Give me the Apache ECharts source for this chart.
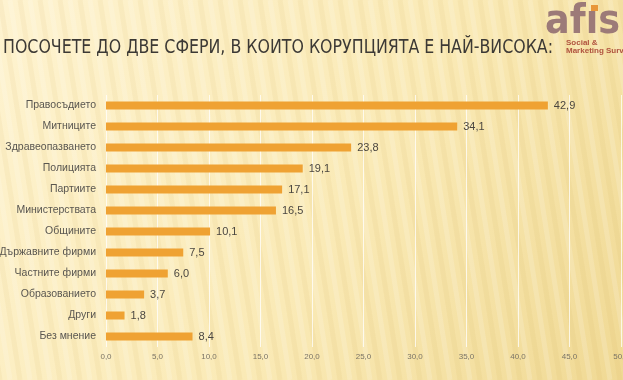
<!DOCTYPE html>
<html><head><meta charset="utf-8">
<script src="https://cdn.jsdelivr.net/npm/echarts@6/dist/echarts.min.js"></script>
<style>html,body{margin:0;padding:0;}#c{width:623px;height:380px;}</style>
</head><body><div id="c"></div>
<script>
var categories = ['Правосъдието','Митниците','Здравеопазването','Полицията','Партиите','Министерствата','Общините','Държавните фирми','Частните фирми','Образованието','Други','Без мнение'];
var values = [42.9,34.1,23.8,19.1,17.1,16.5,10.1,7.5,6.0,3.7,1.8,8.4];
var titleText = 'ПОСОЧЕТЕ ДО ДВЕ СФЕРИ, В КОИТО КОРУПЦИЯТА Е НАЙ-ВИСОКА:';

var chart = echarts.init(document.getElementById('c'));
function fitScale(text, font, target) {
  var cv = document.createElement('canvas').getContext('2d');
  cv.font = font;
  return target / cv.measureText(text).width;
}
var titleFont = '20px "DejaVu Sans Condensed", "Liberation Sans", sans-serif';
var tScale = fitScale(titleText, titleFont, 550);
var logoText = 'af\u0131s';
var logoFont = 'bold 40px "DejaVu Sans", "Liberation Sans", sans-serif';
var lScale = fitScale(logoText, logoFont, 75);

var stripes = [];
for (var i = -20; i < 70; i++) {
  var x0 = i * 10;
  stripes.push({type:'line', silent:true, z:-10,
    shape:{x1:x0, y1:0, x2:x0+60, y2:380},
    style:{stroke: (i%2? 'rgba(255,255,255,0.16)':'rgba(200,160,60,0.07)'), lineWidth:5}});
}
var fmt = function(v){ return Number(v).toFixed(1).replace('.', ','); };
chart.setOption({
  backgroundColor: {type:'linear', x:0, y:0, x2:1, y2:1, colorStops:[{offset:0,color:'#FEF3D0'},{offset:0.55,color:'#FAEAB6'},{offset:1,color:'#F0D994'}]},
  animation:false,
  graphic: stripes.concat([
    {type:'text', x:3, y:48, scaleX:tScale, style:{text:titleText, font:titleFont, fill:'#3C3935', textVerticalAlign:'middle', shadowColor:'rgba(0,0,0,0.3)', shadowBlur:2, shadowOffsetX:1, shadowOffsetY:1}},
    {type:'text', x:545, y:43, scaleX:lScale, style:{text:logoText, font:logoFont, fill:'#9C7A78', textVerticalAlign:'bottom'}},
    {type:'rect', shape:{x:591, y:5, width:7, height:6}, style:{fill:'#E8973A'}},
    {type:'text', x:566, y:43, style:{text:'Social &', font:'bold 8px "Liberation Sans", sans-serif', fill:'#B0533F', textVerticalAlign:'middle'}},
    {type:'text', x:566, y:51, style:{text:'Marketing Survey', font:'bold 8px "Liberation Sans", sans-serif', fill:'#B0533F', textVerticalAlign:'middle'}}
  ]),
  grid:{left:106, right:2, top:95, bottom:33, containLabel:false, outerBoundsMode:'none'},
  xAxis:{type:'value', min:0, max:50, interval:5,
    axisLine:{show:false}, axisTick:{show:false},
    splitLine:{show:true, lineStyle:{color:'rgba(255,255,255,0.75)', width:1}},
    axisLabel:{formatter:fmt, fontSize:8, color:'#7A7466', fontFamily:'Liberation Sans', margin:6}},
  yAxis:{type:'category', inverse:true, data:categories,
    axisLine:{show:false}, axisTick:{show:false},
    axisLabel:{fontSize:10.5, color:'#595650', fontFamily:'Liberation Sans', margin:10}},
  series:[{type:'bar', data:values, barWidth:8,
    itemStyle:{color:'#EFA233'},
    label:{show:true, position:'right', distance:6, formatter:function(p){return fmt(p.value);}, fontSize:11, color:'#4A4640', fontFamily:'Liberation Sans'}}]
});
</script></body></html>
